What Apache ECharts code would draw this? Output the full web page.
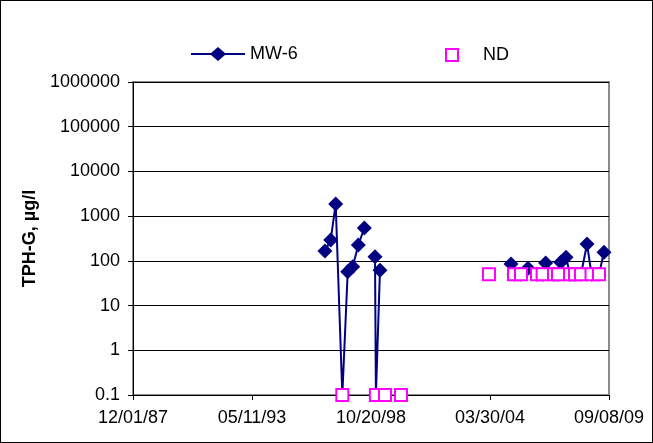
<!DOCTYPE html>
<html><head><meta charset="utf-8">
<script src="https://cdn.jsdelivr.net/npm/echarts@6/dist/echarts.min.js"></script>
<style>
html,body{margin:0;padding:0;background:#fff}
#c{width:653px;height:443px;position:absolute;left:0;top:0}
#frame{position:absolute;left:0;top:0;width:651px;height:441px;border:1px solid #000;pointer-events:none}
</style>
</head><body><div id="c"></div><div id="frame"></div>
<script>
// x tick labels (evenly spaced dates)
const xTickLabels = ['12/01/87','05/11/93','10/20/98','03/30/04','09/08/09'];
const yTickLabels = ['0.1','1','10','100','1000','10000','100000','1000000'];

// MW-6 series (null = gap)
const mw6Dates = ['1996-09-11','1996-12-16','1997-03-09','1997-06-28','1997-09-26','1997-12-18','1998-03-22','1998-06-30','1998-09-15','1998-12-26','1999-01-10','1999-03-19','2000-01-01',
  '2005-03-16','2005-05-05','2005-08-30','2005-12-25','2006-05-24','2006-08-26','2006-10-15','2007-03-04','2007-05-10','2007-06-24','2007-09-21','2007-11-27','2008-02-18','2008-05-28','2008-09-06','2008-11-20','2009-03-25','2009-06-16'];
const mw6Values = [166,293,1870,0.1,57,74,226,543,null,124,0.1,62,null,
  85,50,50,68,50,50,90,50,50,93,120,50,50,50,238,50,50,156];

// ND series
const ndDates = ['1997-06-28','1999-01-10','1999-06-11','2000-03-04','2004-03-13','2005-05-05','2005-08-30','2006-05-24','2006-08-26','2007-03-04','2007-05-10','2007-11-27','2008-02-18','2008-05-28','2008-11-20','2009-03-25'];
const ndValues = [0.1,0.1,0.1,0.1,50,50,50,50,50,50,50,50,50,50,50,50];

function parseMDY(s){const p=s.split('/').map(Number);return Date.UTC(2000+(p[2]<50?p[2]:p[2]-100),p[0]-1,p[1]);}
function parseISO(s){const p=s.split('-').map(Number);return Date.UTC(p[0],p[1]-1,p[2]);}
const base = parseMDY(xTickLabels[0]);
const DAY = 86400000;
const xTickOffsets = xTickLabels.map(s=>Math.round((parseMDY(s)-base)/DAY));
const off = s => Math.round((parseISO(s)-base)/DAY);

const mw6Data = mw6Dates.map((d,i)=>[off(d), mw6Values[i]==null?'-':mw6Values[i]]);
const ndData = ndDates.map((d,i)=>[off(d), ndValues[i]]);

const chart = echarts.init(document.getElementById('c'), null, {renderer:'canvas'});
const FONT = 'Liberation Sans, Arial, sans-serif';
chart.setOption({
  animation:false,
  backgroundColor:'#fff',
  textStyle:{fontFamily:FONT},
  grid:{left:133,right:44,top:82,bottom:48,show:true,borderColor:'#8c8c8c',borderWidth:2,backgroundColor:'transparent'},
  legend:[{
    data:[{name:'MW-6',icon:'path://M0,6L20,6L27,0L34,6L54,6L54,8L34,8L27,14L20,8L0,8Z',itemStyle:{color:'#000080'}}],
    left:191, top:45, padding:0, itemWidth:54, itemHeight:14, itemGap:0,
    textStyle:{fontSize:18,color:'#000',fontFamily:FONT}
  },{
    data:[{name:'ND',icon:'rect',itemStyle:{color:'#fff',borderColor:'#ff00ff',borderWidth:2}}],
    left:445, top:46, padding:0, itemWidth:12, itemHeight:12,
    textStyle:{fontSize:18,color:'#000',fontFamily:FONT,padding:[0,0,0,20]}
  }],
  xAxis:{
    type:'value', min:xTickOffsets[0], max:xTickOffsets[xTickOffsets.length-1], interval:xTickOffsets[1]-xTickOffsets[0],
    axisLine:{lineStyle:{color:'#000',width:1}},
    axisTick:{show:true,length:5,lineStyle:{color:'#000'}},
    splitLine:{show:false},
    axisLabel:{fontSize:18,color:'#000',margin:14,fontFamily:FONT,
      formatter:v=>{const i=xTickOffsets.indexOf(Math.round(v));return i>=0?xTickLabels[i]:'';}}
  },
  yAxis:{
    type:'log', logBase:10, min:Number(yTickLabels[0]), max:Number(yTickLabels[yTickLabels.length-1]), splitNumber:7,
    name:'TPH-G, µg/l', nameLocation:'middle', nameGap:84,
    nameTextStyle:{fontSize:18,fontWeight:'bold',color:'#000',fontFamily:FONT},
    axisLine:{show:true,lineStyle:{color:'#000',width:1}},
    axisTick:{show:true,length:5,lineStyle:{color:'#000'}},
    splitLine:{show:true,lineStyle:{color:'#000',width:1}},
    axisLabel:{fontSize:18,color:'#000',margin:13,fontFamily:FONT,
      formatter:v=>{const l=Math.round(Math.log10(v));const s=yTickLabels.find(t=>Math.round(Math.log10(Number(t)))===l);return s||'';}}
  },
  series:[{
    name:'MW-6', type:'line', data:mw6Data, connectNulls:false,
    symbol:'diamond', symbolSize:15,
    lineStyle:{color:'#000080',width:2},
    itemStyle:{color:'#000080'},
    z:2
  },{
    name:'ND', type:'scatter', data:ndData,
    symbol:'rect', symbolSize:12,
    itemStyle:{color:'#fff',borderColor:'#ff00ff',borderWidth:2,opacity:1},
    z:3
  }]
});
</script>
</body></html>
